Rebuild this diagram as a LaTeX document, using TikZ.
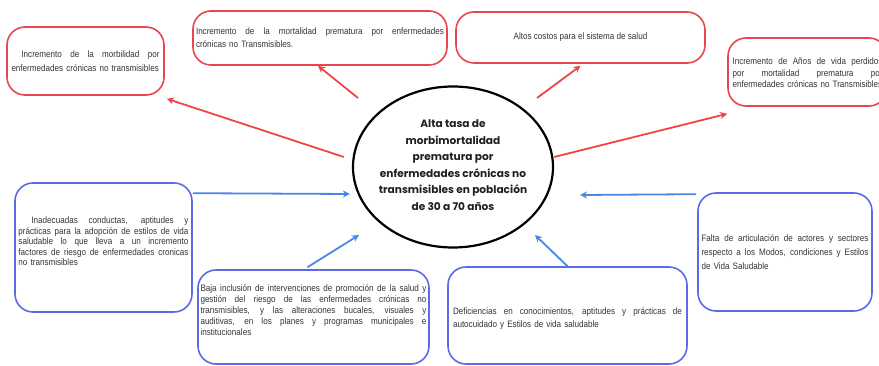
\documentclass[tikz,border=0pt]{standalone}
\usepackage{fontspec}
\setmainfont{Liberation Sans}[FakeStretch=0.87]
\newfontfamily\titlefont{Poppins}
\usetikzlibrary{arrows.meta,calc,shapes.geometric}
\definecolor{boxred}{HTML}{E8454F}
\definecolor{arrred}{HTML}{EE4545}
\definecolor{boxblue}{HTML}{5A6BE6}
\definecolor{arrblue}{HTML}{4A86E8}
\definecolor{txt}{HTML}{333333}
\newcommand\jl[2]{\leavevmode\hbox to #1{\spaceskip=0.25em plus 1fil\relax #2}\\}
\begin{document}
\begin{tikzpicture}[x=1pt,y=-1pt,
  box/.style={draw, line width=1.6pt, rounded corners=18pt, inner sep=0pt, align=left, text=txt},
  redbox/.style={box, draw=boxred},
  bluebox/.style={box, draw=boxblue},
  redarrow/.style={draw=arrred, line width=1.8pt, -{Stealth[length=7pt,width=7pt]}},
  bluearrow/.style={draw=arrblue, line width=1.8pt, -{Stealth[length=7pt,width=7pt]}},
  tfont/.style={font=\fontsize{9.3}{#1}\selectfont}
]
\useasboundingbox (0,0) rectangle (879,366);
\clip (0,0) rectangle (879,366);

% centre
\node[ellipse, draw=black, line width=2.2pt, minimum width=200pt, minimum height=161pt, inner sep=0pt] (c) at (453,167) {};
\node[align=center, text=black!88, font=\titlefont\bfseries\fontsize{10.6}{16.5}\selectfont] (ct) at (453,165)
  {Alta tasa de\\morbimortalidad\\prematura por\\enfermedades crónicas no\\transmisibles en población\\de 30 a 70 años};

% red boxes
\node[redbox, tfont=14, text width=148pt, minimum width=157pt, minimum height=68pt] (tl) at (85.5,61)
  {\jl{148pt}{\hspace*{10pt}Incremento de la morbilidad por}enfermedades crónicas no transmisibles};
\node[redbox, tfont=13, text width=248pt, minimum width=254pt, minimum height=54pt] (tm) at (320,38)
  {\jl{248pt}{Incremento de la mortalidad prematura por enfermedades}crónicas no Transmisibles.};
\node[redbox, align=center, tfont=11, minimum width=249pt, minimum height=51pt] (al) at (580.5,37.5)
  {Altos costos para el sistema de salud};
\node[redbox, tfont=11.5, text width=150pt, minimum width=159pt, minimum height=68pt] (rr) at (807.5,72)
  {\rule{0pt}{9pt}\jl{150pt}{Incremento de Años de vida perdidos}\jl{150pt}{por mortalidad prematura por}enfermedades crónicas no Transmisibles};

% blue boxes
\node[bluebox, tfont=10.5, text width=170pt, minimum width=177pt, minimum height=129pt] (lb) at (103.5,247.5)
  {\jl{170pt}{\hspace*{13pt}Inadecuadas conductas, aptitudes y}\jl{170pt}{prácticas para la adopción de estilos de vida}\jl{170pt}{saludable lo que lleva a un incremento}\jl{170pt}{factores de riesgo de enfermedades cronicas}no transmisibles\rule[-12pt]{0pt}{12pt}};
\node[bluebox, tfont=11, text width=226pt, minimum width=231pt, minimum height=94pt] (bm) at (313.5,317)
  {\jl{226pt}{Baja inclusión de intervenciones de promoción de la salud y}\jl{226pt}{gestión del riesgo de las enfermedades crónicas no}\jl{226pt}{transmisibles, y las alteraciones bucales, visuales y}\jl{226pt}{auditivas, en los planes y programas municipales e}institucionales\rule[-14pt]{0pt}{14pt}};
\node[bluebox, tfont=13, text width=229pt, minimum width=239pt, minimum height=97pt] (br) at (567.5,315.5)
  {\rule{0pt}{12pt}\jl{229pt}{Deficiencias en conocimientos, aptitudes y prácticas de}autocuidado y Estilos de vida saludable};
\node[bluebox, tfont=14, text width=167pt, minimum width=174pt, minimum height=118pt] (rb) at (785,252)
  {\jl{167pt}{Falta de articulación de actores y sectores}\jl{167pt}{respecto a los Modos, condiciones y Estilos}de Vida Saludable};

% red arrows (effects)
\draw[redarrow] ([shift={(-8,-10)}]c.west) -- ([shift={(2,3)}]tl.south east);
\draw[redarrow] ([shift={(-95,-69)}]c.center) -- ([shift={(-2,0)}]tm.south);
\draw[redarrow] ([shift={(84,-69)}]c.center) -- ([shift={(0,2)}]al.south);
\draw[redarrow] ([shift={(0,-10)}]c.east) -- ([shift={(0,7)}]rr.south west);

% blue arrows (causes)
\draw[bluearrow] ([shift={(0,11)}]lb.north east) -- ([shift={(-2,27)}]c.west);
\draw[bluearrow] ([shift={(-6,-2)}]bm.north) -- ([shift={(-94,68)}]c.center);
\draw[bluearrow] (br.north) -- ([shift={(82,68)}]c.center);
\draw[bluearrow] ([shift={(-1,2)}]rb.north west) -- ([shift={(127,28)}]c.center);
\end{tikzpicture}
\end{document}
